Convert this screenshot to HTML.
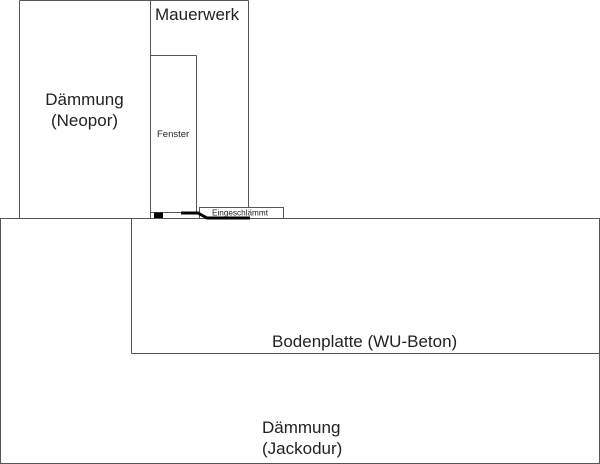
<!DOCTYPE html>
<html>
<head>
<meta charset="utf-8">
<style>
  html, body { margin: 0; padding: 0; background: #fff; }
  body { width: 600px; height: 464px; overflow: hidden; }
  svg { display: block; }
  text { font-family: "Liberation Sans", sans-serif; fill: #222; }
</style>
</head>
<body>
<svg width="600" height="464" viewBox="0 0 600 464" xmlns="http://www.w3.org/2000/svg">
  <g fill="none" stroke="#555" stroke-width="1">
    <!-- Dämmung (Neopor) + Mauerwerk outer -->
    <line x1="19.5" y1="0.5" x2="248.5" y2="0.5"/>
    <line x1="19.5" y1="0.5" x2="19.5" y2="218.5"/>
    <line x1="150.5" y1="0.5" x2="150.5" y2="218.5"/>
    <line x1="248.5" y1="0.5" x2="248.5" y2="218.5"/>
    <!-- Fenster -->
    <line x1="150.5" y1="55.5" x2="196.5" y2="55.5"/>
    <line x1="196.5" y1="55.5" x2="196.5" y2="212.5"/>
    <line x1="150.5" y1="212.5" x2="184" y2="212.5"/>
    <!-- Big bottom box -->
    <rect x="0.5" y="218.5" width="599" height="245"/>
    <!-- Bodenplatte -->
    <line x1="131.5" y1="218.5" x2="131.5" y2="353.5"/>
    <line x1="131.5" y1="353.5" x2="599.5" y2="353.5"/>
    <!-- Eingeschlämmt box -->
    <rect x="199.5" y="207.5" width="84" height="11" fill="#fff"/>
  </g>
  <!-- black detail -->
  <rect x="154" y="212.5" width="9" height="5.5" fill="#000"/>
  <polyline points="181,213 198,213 207,218 250,218" fill="none" stroke="#000" stroke-width="3"/>

  <!-- Labels -->
  <text x="155" y="20" font-size="17">Mauerwerk</text>
  <text x="84.5" y="105" font-size="17" text-anchor="middle">Dämmung</text>
  <text x="84.5" y="126" font-size="17" text-anchor="middle">(Neopor)</text>
  <text x="157" y="137" font-size="9.5">Fenster</text>
  <text x="212" y="215.5" font-size="8.2">Eingeschlämmt</text>
  <text x="272" y="347" font-size="17">Bodenplatte (WU-Beton)</text>
  <text x="262" y="433" font-size="17">Dämmung</text>
  <text x="262" y="454" font-size="17">(Jackodur)</text>
</svg>
</body>
</html>
